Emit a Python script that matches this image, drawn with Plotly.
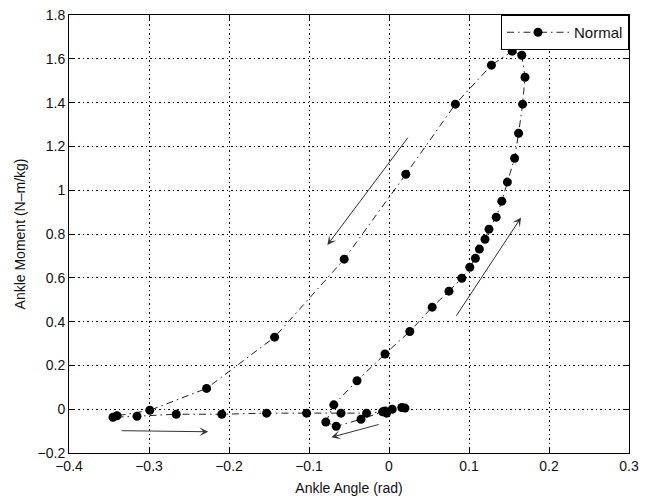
import plotly.graph_objects as go

# Ankle angle (rad) and ankle moment (N-m/kg), ordered through the gait cycle
angle = [0.020, 0.016, 0.004, -0.005, -0.035, -0.066, -0.079, -0.069, -0.040,
         -0.005, 0.026, 0.054, 0.075, 0.091, 0.101, 0.108, 0.113, 0.120, 0.125,
         0.134, 0.141, 0.148, 0.157, 0.162, 0.167, 0.170, 0.166, 0.154, 0.128,
         0.083, 0.021, -0.056, -0.143, -0.228, -0.299, -0.340, -0.345, -0.315,
         -0.266, -0.209, -0.153, -0.103, -0.060, -0.028, -0.008, -0.003]
moment = [0.005, 0.008, 0.000, -0.008, -0.046, -0.078, -0.059, 0.020, 0.130,
          0.252, 0.355, 0.466, 0.539, 0.598, 0.648, 0.689, 0.731, 0.776, 0.822,
          0.877, 0.950, 1.037, 1.146, 1.260, 1.393, 1.516, 1.616, 1.635, 1.571,
          1.393, 1.073, 0.685, 0.329, 0.095, -0.005, -0.030, -0.037, -0.032,
          -0.023, -0.023, -0.018, -0.018, -0.018, -0.018, -0.012, -0.018]

x_ticks = [-0.4, -0.3, -0.2, -0.1, 0, 0.1, 0.2, 0.3]
y_ticks = [-0.2, 0, 0.2, 0.4, 0.6, 0.8, 1, 1.2, 1.4, 1.6, 1.8]

# direction arrows: (tail_x, tail_y, head_x, head_y)
arrows = [(-0.336, -0.098, -0.226, -0.103),
          (-0.011, -0.068, -0.072, -0.128),
          (0.083, 0.420, 0.165, 0.875),
          (0.025, 1.247, -0.077, 0.750)]

def fmt(v):
    s = ("%g" % v)
    return s.replace("-", "\u2212")

FONT = "Liberation Sans, Arial"

fig = go.Figure()
fig.add_trace(go.Scatter(
    x=angle, y=moment, mode="lines+markers", name="Normal",
    line=dict(color="#222222", width=1, dash="7px,4px,1.5px,4px"),
    marker=dict(color="black", size=9, symbol="circle"),
))

for tx, ty, hx, hy in arrows:
    fig.add_annotation(x=hx, y=hy, ax=tx, ay=ty, xref="x", yref="y",
                       axref="x", ayref="y", text="", showarrow=True,
                       arrowhead=3, arrowsize=1.5, arrowwidth=1,
                       arrowcolor="#333333")

axis_common = dict(
    showline=True, linecolor="black", linewidth=1, mirror="ticks",
    ticks="inside", ticklen=5, tickcolor="black",
    showgrid=True, gridcolor="black", gridwidth=1, griddash="1.5px,3px",
    zeroline=False, ticklabeloverflow="allow",
    tickfont=dict(family=FONT, size=14, color="#111"),
)

fig.update_xaxes(range=[-0.4, 0.3], tickvals=x_ticks,
                 ticktext=[fmt(v) for v in x_ticks],
                 title=dict(text="Ankle Angle (rad)", standoff=10,
                            font=dict(family=FONT, size=14, color="#111")),
                 **axis_common)
fig.update_yaxes(range=[-0.2, 1.8], tickvals=y_ticks,
                 ticktext=[fmt(v) for v in y_ticks],
                 title=dict(text="Ankle Moment (N\u2013m/kg)", standoff=8,
                            font=dict(family=FONT, size=14, color="#111")),
                 **axis_common)

# page body has an 8px margin; figure is sized/margined so the plot area
# lands at x 69..629, y 15..453 in the window
fig.update_layout(
    width=634, height=488,
    margin=dict(l=61, r=13, t=7, b=43, autoexpand=False),
    plot_bgcolor="white", paper_bgcolor="white",
    showlegend=True,
    legend=dict(x=1, y=1, xanchor="right", yanchor="top",
                bgcolor="white", bordercolor="black", borderwidth=1,
                font=dict(family=FONT, size=15, color="#111"),
                itemwidth=62, tracegroupgap=0),
)

fig.write_html("out.html")
